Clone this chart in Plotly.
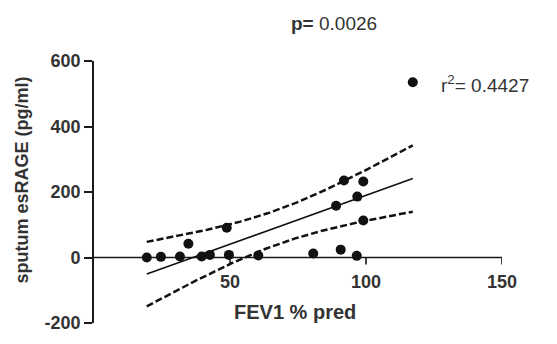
import numpy as np
import plotly.graph_objects as go

# FEV1 % predicted (x) and sputum esRAGE pg/ml (y)
fev1 = [19.4, 24.6, 31.6, 34.7, 39.6, 42.6, 48.8, 49.6, 60.4, 80.6,
        90.7, 96.6, 89.0, 91.9, 99.0, 96.8, 99.0, 117.2]
esrage = [0, 2, 3, 42, 3, 8, 91, 8, 6, 12,
          24, 5, 158, 235, 232, 186, 113, 535]

x_ticks = [50, 100, 150]
y_ticks = [-200, 0, 200, 400, 600]
y_tick_text = ["-200", "0", "200", "400", "600"]
p_label = "0.0026"
r2_label = "0.4427"

x = np.array(fev1, dtype=float)
y = np.array(esrage, dtype=float)
n = len(x)
slope, intercept = np.polyfit(x, y, 1)
xs = np.linspace(x.min(), x.max(), 200)
fit = slope * xs + intercept
resid = y - (slope * x + intercept)
s = np.sqrt(np.sum(resid ** 2) / (n - 2))
sxx = np.sum((x - x.mean()) ** 2)
tcrit = 2.1199  # t(0.975, df=16)
half = tcrit * s * np.sqrt(1.0 / n + (xs - x.mean()) ** 2 / sxx)

FONT = "Liberation Sans, Arial, sans-serif"
TXT = "#333333"
AX = "#1a1a1a"

fig = go.Figure()
fig.add_trace(go.Scatter(x=xs, y=fit + half, mode="lines",
                         line=dict(color="#111", width=2.5, dash="7px,3px"),
                         hoverinfo="skip"))
fig.add_trace(go.Scatter(x=xs, y=fit - half, mode="lines",
                         line=dict(color="#111", width=2.5, dash="7px,3px"),
                         hoverinfo="skip"))
fig.add_trace(go.Scatter(x=xs, y=fit, mode="lines",
                         line=dict(color="#111", width=1.6), hoverinfo="skip"))
fig.add_trace(go.Scatter(x=fev1, y=esrage, mode="markers",
                         marker=dict(color="#111", size=10)))

H = 344 - 61 - 11
W = 557 - 94 - 55

shapes = [dict(type="line", xref="x", yref="y", x0=0, x1=150, y0=0, y1=0,
               line=dict(color=AX, width=1.6), layer="below")]
annotations = []
for t in x_ticks:
    shapes.append(dict(type="line", xref="x", yref="y", ysizemode="pixel",
                       yanchor=0, x0=t, x1=t, y0=0, y1=-7,
                       line=dict(color=AX, width=1.6), layer="below"))
    annotations.append(dict(text="<b>%d</b>" % t, x=t, xref="x", y=0, yref="y",
                            yshift=-24, yanchor="middle", xanchor="center",
                            showarrow=False,
                            font=dict(family=FONT, size=18, color=TXT)))

annotations += [
    dict(text="<b>FEV1 % pred</b>", x=(295 - 94) / W, xref="paper",
         y=1 - (322 - 61) / H, yref="paper", yanchor="middle", xanchor="center",
         showarrow=False, font=dict(family=FONT, size=20, color=TXT)),
    dict(text="<b>sputum esRAGE (pg/ml)</b>", x=(22 - 94) / W, xref="paper",
         y=1 - (185 - 61) / H, yref="paper", xanchor="center", yanchor="middle",
         showarrow=False, textangle=-90,
         font=dict(family=FONT, size=18, color=TXT)),
    dict(text="<b>p=</b> " + p_label, x=(334 - 94) / W, xref="paper",
         y=1 - (22 - 61) / H, yref="paper", xanchor="center", yanchor="middle",
         showarrow=False, font=dict(family=FONT, size=19, color=TXT)),
    dict(text="r<sup>2</sup>= " + r2_label, x=127, xref="x", y=529, yref="y",
         xanchor="left", showarrow=False,
         font=dict(family=FONT, size=19, color=TXT)),
]

fig.update_layout(
    width=557, height=344,
    margin=dict(l=94, r=55, t=61, b=11),
    paper_bgcolor="white", plot_bgcolor="white",
    showlegend=False,
    xaxis=dict(range=[0, 150], showticklabels=False, ticks="", showline=False,
               showgrid=False, zeroline=False),
    yaxis=dict(range=[-200, 600], tickvals=y_ticks, ticktext=y_tick_text,
               ticks="outside", ticklen=8,
               tickwidth=1.6, tickcolor=AX, showline=True, linecolor=AX,
               linewidth=1.6, showgrid=False, zeroline=False,
               tickfont=dict(family=FONT, size=18, color=TXT, weight="bold")),
    shapes=shapes,
    annotations=annotations,
)

fig.write_html("out.html")
